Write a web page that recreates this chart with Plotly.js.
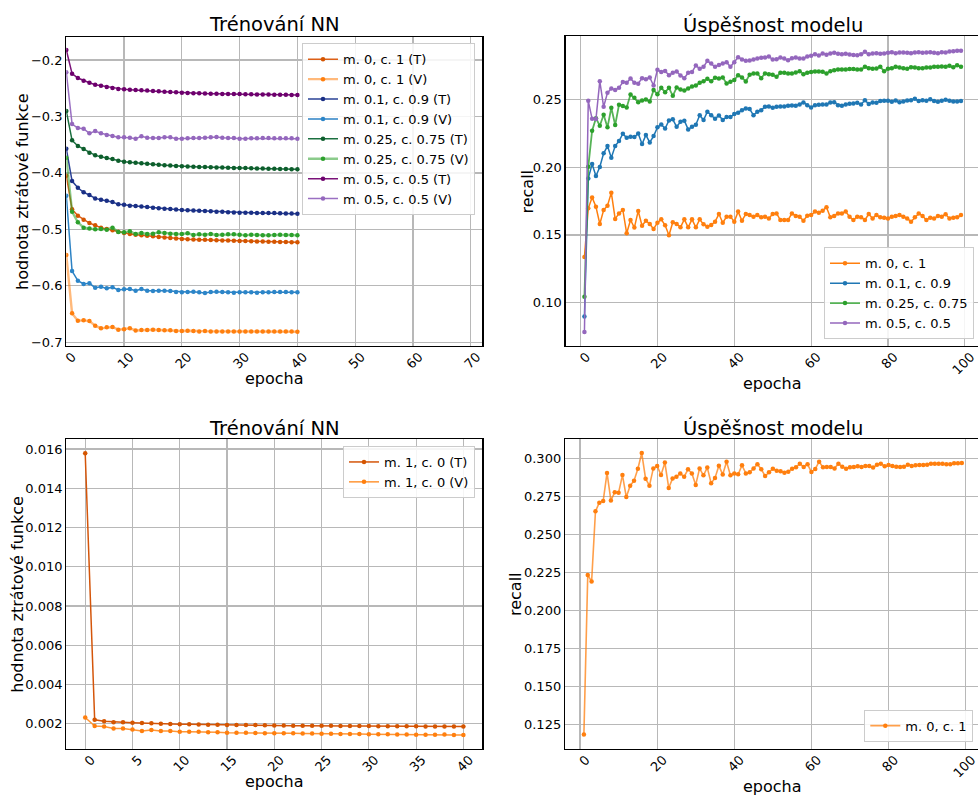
<!DOCTYPE html>
<html>
<head>
<meta charset="utf-8">
<script src="https://cdn.plot.ly/plotly-3.0.1.min.js"></script>
<style>
  html, body { margin: 0; padding: 0; overflow: hidden; background: #fff; }
  #chart { width: 984px; height: 796px; }
</style>
</head>
<body>
<div id="chart"></div>
<script>
// ---- loss during training (top left), 41 epochs ----
const lossEpochs = Array.from({length: 41}, (_, i) => i);

const lossM0T = [-0.405, -0.4645, -0.4758, -0.4829, -0.4888, -0.4929, -0.497, -0.4994, -0.5017, -0.5041,
  -0.5065, -0.5082, -0.5094, -0.5104, -0.5114, -0.5124, -0.5134, -0.5143, -0.5152, -0.5162,
  -0.5171, -0.5175, -0.5179, -0.5182, -0.5186, -0.5189, -0.5193, -0.5196, -0.5199, -0.5203,
  -0.5206, -0.5208, -0.5211, -0.5213, -0.5216, -0.5218, -0.522, -0.5223, -0.5225, -0.5228, -0.523];
const lossM0V = [-0.5455, -0.6488, -0.6618, -0.6612, -0.6624, -0.6706, -0.6753, -0.6736, -0.673, -0.6777,
  -0.6771, -0.6753, -0.679, -0.6783, -0.6783, -0.6777, -0.6783, -0.6789, -0.6789, -0.6801,
  -0.6801, -0.6795, -0.6801, -0.6807, -0.6801, -0.6807, -0.6807, -0.6807, -0.6807, -0.6807,
  -0.6807, -0.6807, -0.6807, -0.6807, -0.6807, -0.6807, -0.6807, -0.6807, -0.6807, -0.6807, -0.6813];
const lossM01T = [-0.357, -0.4144, -0.4262, -0.4344, -0.4391, -0.4451, -0.4474, -0.4492, -0.4516, -0.4557,
  -0.4563, -0.458, -0.4586, -0.4595, -0.4605, -0.4616, -0.4625, -0.4633, -0.4641, -0.4649,
  -0.4657, -0.4662, -0.4667, -0.4671, -0.4676, -0.4681, -0.4686, -0.469, -0.4695, -0.47,
  -0.4704, -0.4705, -0.4706, -0.4708, -0.4709, -0.471, -0.4712, -0.4715, -0.4717, -0.472, -0.4722];
const lossM01V = [-0.4403, -0.5738, -0.5909, -0.5968, -0.5956, -0.6033, -0.6015, -0.6045, -0.6027, -0.6074,
  -0.6062, -0.6057, -0.6086, -0.6057, -0.6086, -0.6092, -0.6086, -0.6086, -0.6092, -0.611,
  -0.6116, -0.611, -0.6104, -0.6116, -0.6128, -0.611, -0.6104, -0.611, -0.6116, -0.6122,
  -0.6116, -0.6116, -0.6116, -0.6122, -0.6116, -0.6116, -0.611, -0.611, -0.611, -0.6116, -0.6116];
const lossM025T = [-0.2903, -0.3423, -0.3523, -0.3577, -0.3641, -0.3689, -0.3712, -0.3736, -0.3754, -0.3783,
  -0.3801, -0.3813, -0.3819, -0.3829, -0.3839, -0.3848, -0.3856, -0.3863, -0.387, -0.3877,
  -0.3884, -0.3887, -0.389, -0.3894, -0.3897, -0.3901, -0.3903, -0.3906, -0.3908, -0.3911,
  -0.3913, -0.3915, -0.3918, -0.392, -0.3923, -0.3925, -0.3927, -0.393, -0.3932, -0.3935, -0.3937];
const lossM025V = [-0.373, -0.4687, -0.4876, -0.497, -0.4985, -0.5, -0.4995, -0.5005, -0.497, -0.5047,
  -0.5053, -0.5035, -0.5082, -0.5065, -0.5082, -0.5076, -0.5053, -0.5065, -0.5076, -0.5082,
  -0.5082, -0.507, -0.51, -0.5088, -0.5094, -0.5082, -0.51, -0.5094, -0.5088, -0.5088,
  -0.5094, -0.5106, -0.5094, -0.51, -0.5106, -0.5106, -0.51, -0.5094, -0.51, -0.51, -0.5106];
const lossM05T = [-0.1823, -0.2242, -0.2319, -0.2366, -0.2402, -0.2437, -0.2455, -0.2478, -0.2496, -0.2514,
  -0.252, -0.2526, -0.253, -0.2535, -0.254, -0.2549, -0.2555, -0.256, -0.2567, -0.2573,
  -0.2579, -0.2583, -0.2587, -0.259, -0.2593, -0.2596, -0.2598, -0.26, -0.2601, -0.2602,
  -0.2603, -0.2605, -0.2607, -0.2609, -0.261, -0.2612, -0.2614, -0.2615, -0.2617, -0.2618, -0.262];
const lossM05V = [-0.2218, -0.3134, -0.3205, -0.3217, -0.3299, -0.3258, -0.3299, -0.3329, -0.3346, -0.337,
  -0.337, -0.3376, -0.3394, -0.3352, -0.3376, -0.338, -0.338, -0.337, -0.337, -0.3394,
  -0.3394, -0.3388, -0.3382, -0.3382, -0.3376, -0.337, -0.3364, -0.3376, -0.3382, -0.3382,
  -0.3394, -0.3394, -0.3388, -0.3388, -0.3382, -0.3382, -0.3388, -0.3388, -0.3388, -0.3388, -0.3394];

// ---- recall per epoch (top right), epochs 1..99 ----
const recallEpochs = Array.from({length: 99}, (_, i) => i + 1);

const recallM0 = [0.1337, 0.1696, 0.1777, 0.1708, 0.1581, 0.1684, 0.1716, 0.1812, 0.1618, 0.1659,
  0.1684, 0.1512, 0.161, 0.1554, 0.1677, 0.1568, 0.1605, 0.1581, 0.1544, 0.159,
  0.1615, 0.1571, 0.1497, 0.1593, 0.1581, 0.1556, 0.1615, 0.1556, 0.1615, 0.1556,
  0.1615, 0.1578, 0.1561, 0.1573, 0.1598, 0.1654, 0.159, 0.1635, 0.1635, 0.1598,
  0.1672, 0.1605, 0.1654, 0.1647, 0.1635, 0.1647, 0.163, 0.1635, 0.1622, 0.1654,
  0.1659, 0.161, 0.161, 0.161, 0.1659, 0.164, 0.1635, 0.1605, 0.1642, 0.1647,
  0.1672, 0.1664, 0.1679, 0.1704, 0.163, 0.164, 0.1659, 0.1659, 0.1672, 0.1635,
  0.161, 0.1635, 0.163, 0.161, 0.1654, 0.1622, 0.1647, 0.163, 0.1627, 0.1622,
  0.1635, 0.164, 0.1647, 0.1635, 0.1622, 0.1598, 0.163, 0.1659, 0.164, 0.161,
  0.1627, 0.1622, 0.164, 0.1635, 0.1652, 0.1622, 0.1627, 0.163, 0.1647];
const recallM01 = [0.0897, 0.1917, 0.2023, 0.1935, 0.2001, 0.2102, 0.2156, 0.207, 0.2156, 0.2193,
  0.2247, 0.2217, 0.2225, 0.2222, 0.2249, 0.2171, 0.2237, 0.2183, 0.223, 0.2294,
  0.2316, 0.2286, 0.2345, 0.2353, 0.2298, 0.2335, 0.2343, 0.2279, 0.2298, 0.2313,
  0.2384, 0.2348, 0.2409, 0.2384, 0.2357, 0.2382, 0.2348, 0.237, 0.237, 0.2392,
  0.2402, 0.2421, 0.2434, 0.2429, 0.2384, 0.2409, 0.2421, 0.2446, 0.2448, 0.2439,
  0.2446, 0.2448, 0.2448, 0.2453, 0.2456, 0.2453, 0.2463, 0.2478, 0.2458, 0.2441,
  0.2458, 0.2461, 0.2463, 0.2463, 0.2478, 0.248, 0.2458, 0.2453, 0.2463, 0.2468,
  0.247, 0.2475, 0.2463, 0.2495, 0.2466, 0.2478, 0.2475, 0.2488, 0.249, 0.249,
  0.2483, 0.2493, 0.248, 0.2485, 0.2493, 0.2495, 0.2505, 0.2488, 0.2495, 0.249,
  0.2502, 0.2488, 0.2483, 0.249, 0.2498, 0.249, 0.2485, 0.2485, 0.2488];
const recallM025 = [0.1044, 0.2003, 0.2269, 0.2362, 0.2306, 0.2387, 0.2294, 0.2439, 0.2311, 0.2461,
  0.2451, 0.2441, 0.2537, 0.2512, 0.248, 0.2493, 0.25, 0.2485, 0.2569, 0.2539,
  0.2586, 0.2554, 0.2586, 0.2527, 0.2588, 0.2574, 0.2566, 0.2581, 0.2596, 0.2603,
  0.2623, 0.2635, 0.2652, 0.2635, 0.266, 0.2655, 0.2662, 0.2618, 0.263, 0.2643,
  0.2679, 0.2662, 0.2633, 0.2682, 0.2692, 0.2692, 0.2657, 0.2692, 0.2687, 0.2682,
  0.2667, 0.2697, 0.2697, 0.2692, 0.2692, 0.2699, 0.2709, 0.2687, 0.2697, 0.2702,
  0.2706, 0.2706, 0.2704, 0.2692, 0.2709, 0.2716, 0.2721, 0.2721, 0.2721, 0.2724,
  0.2724, 0.2721, 0.2721, 0.2741, 0.2731, 0.2726, 0.2729, 0.2741, 0.2709, 0.2726,
  0.2731, 0.2741, 0.2736, 0.2731, 0.2726, 0.2738, 0.2736, 0.2731, 0.2731, 0.2736,
  0.2736, 0.2741, 0.2741, 0.2743, 0.2741, 0.2748, 0.2738, 0.2753, 0.2741];
const recallM05 = [0.0784, 0.249, 0.2357, 0.2355, 0.2635, 0.2446, 0.2549, 0.2581, 0.2569, 0.2586,
  0.2628, 0.2623, 0.2655, 0.2623, 0.2616, 0.2657, 0.265, 0.2662, 0.2603, 0.2719,
  0.2702, 0.2711, 0.2679, 0.2697, 0.2706, 0.2677, 0.2657, 0.2697, 0.2702, 0.2751,
  0.2726, 0.2741, 0.2785, 0.2765, 0.2741, 0.2755, 0.2765, 0.2775, 0.2741, 0.2775,
  0.2812, 0.2795, 0.2785, 0.2787, 0.2795, 0.2802, 0.2807, 0.2809, 0.2817, 0.2795,
  0.2797, 0.2809, 0.2802, 0.279, 0.2805, 0.281, 0.2802, 0.2802, 0.2817, 0.2822,
  0.2834, 0.2824, 0.2839, 0.283, 0.284, 0.2844, 0.2837, 0.2834, 0.2837, 0.2832,
  0.2829, 0.2827, 0.2834, 0.2852, 0.2834, 0.2839, 0.2842, 0.2837, 0.2839, 0.2844,
  0.2849, 0.2842, 0.2847, 0.2847, 0.2844, 0.2842, 0.2847, 0.2849, 0.2844, 0.2847,
  0.2849, 0.2844, 0.2842, 0.2849, 0.2847, 0.2854, 0.2856, 0.2859, 0.2859];

// ---- loss for m. 1, c. 0 (bottom left) ----
const lossM1T = [0.01578, 0.00220, 0.00212, 0.00208, 0.00207, 0.00205, 0.00203, 0.00202, 0.00200, 0.00198,
  0.00197, 0.00197, 0.00196, 0.00195, 0.00195, 0.00194, 0.00194, 0.00193, 0.00193, 0.00192,
  0.00191, 0.00191, 0.00190, 0.00190, 0.00189, 0.00189, 0.00189, 0.00188, 0.00188, 0.00188,
  0.00188, 0.00187, 0.00187, 0.00187, 0.00187, 0.00187, 0.00186, 0.00186, 0.00186, 0.00186, 0.00186];
const lossM1V = [0.00232, 0.00188, 0.00186, 0.00176, 0.00176, 0.00171, 0.00163, 0.00168, 0.00163, 0.00163,
  0.00159, 0.00159, 0.00159, 0.00156, 0.00156, 0.00154, 0.00154, 0.00154, 0.00153, 0.00152,
  0.00151, 0.00151, 0.00151, 0.00150, 0.00150, 0.00149, 0.00149, 0.00148, 0.00148, 0.00147,
  0.00146, 0.00146, 0.00146, 0.00145, 0.00145, 0.00144, 0.00144, 0.00144, 0.00145, 0.00143, 0.00142];

// ---- recall for m. 0, c. 1 (bottom right) ----
const recallSingle = [0.1182, 0.2234, 0.219, 0.2653, 0.271, 0.2721, 0.2906, 0.2725, 0.2778, 0.2776,
  0.2892, 0.2747, 0.2822, 0.2855, 0.2934, 0.3037, 0.2868, 0.2822, 0.2936, 0.2952,
  0.2892, 0.2974, 0.2807, 0.287, 0.2881, 0.2903, 0.2881, 0.293, 0.2903, 0.2827,
  0.2936, 0.289, 0.2941, 0.2838, 0.2873, 0.2954, 0.2895, 0.298, 0.289, 0.2903,
  0.2897, 0.2956, 0.2903, 0.291, 0.2936, 0.2963, 0.293, 0.2886, 0.291, 0.2934,
  0.2921, 0.2917, 0.2908, 0.2914, 0.2934, 0.2943, 0.2967, 0.2945, 0.2963, 0.2912,
  0.2932, 0.298, 0.2943, 0.2945, 0.2945, 0.2936, 0.2967, 0.2947, 0.2934, 0.2943,
  0.2945, 0.295, 0.2945, 0.2952, 0.2952, 0.2941, 0.296, 0.2967, 0.295, 0.2958,
  0.2952, 0.2947, 0.2945, 0.2947, 0.296, 0.2952, 0.2956, 0.2958, 0.2958, 0.296,
  0.2967, 0.2967, 0.2967, 0.2967, 0.2963, 0.2963, 0.2969, 0.2969, 0.2971];

// ---- drawing ----
const W = 984, H = 796;
const FONT = 'DejaVu Sans, sans-serif';
const px = v => v / W;
const py = v => 1 - v / H;

function line(x, y, name, lineColor, markerColor, width, xa, ya, legend) {
  return {
    type: 'scatter', mode: 'lines+markers', x: x, y: y, name: name,
    xaxis: xa, yaxis: ya, legend: legend,
    line: {color: lineColor, width: width},
    marker: {color: markerColor, size: 4.5},
    hoverinfo: 'skip'
  };
}

const traces = [
  line(lossEpochs, lossM0T, 'm. 0, c. 1 (T)', '#dc5f17', '#d45500', 1.5, 'x', 'y', 'legend'),
  line(lossEpochs, lossM0V, 'm. 0, c. 1 (V)', 'rgba(255,127,14,0.55)', '#ff7f0e', 2.4, 'x', 'y', 'legend'),
  line(lossEpochs, lossM01T, 'm. 0.1, c. 0.9 (T)', '#2a4296', '#1a2f85', 1.5, 'x', 'y', 'legend'),
  line(lossEpochs, lossM01V, 'm. 0.1, c. 0.9 (V)', '#2c82c4', '#2c85c8', 1.5, 'x', 'y', 'legend'),
  line(lossEpochs, lossM025T, 'm. 0.25, c. 0.75 (T)', '#1c7040', '#0d5e2c', 1.5, 'x', 'y', 'legend'),
  line(lossEpochs, lossM025V, 'm. 0.25, c. 0.75 (V)', 'rgba(44,160,44,0.55)', '#2ca02c', 2.4, 'x', 'y', 'legend'),
  line(lossEpochs, lossM05T, 'm. 0.5, c. 0.5 (T)', '#7a1279', '#6d006d', 1.5, 'x', 'y', 'legend'),
  line(lossEpochs, lossM05V, 'm. 0.5, c. 0.5 (V)', '#9a70c2', '#9467bd', 1.5, 'x', 'y', 'legend'),

  line(recallEpochs, recallM0, 'm. 0, c. 1', '#ff7f0e', '#ff7f0e', 1.5, 'x2', 'y2', 'legend2'),
  line(recallEpochs, recallM01, 'm. 0.1, c. 0.9', '#1f77b4', '#1f77b4', 1.5, 'x2', 'y2', 'legend2'),
  line(recallEpochs, recallM025, 'm. 0.25, c. 0.75', 'rgba(44,160,44,0.8)', '#2ca02c', 1.8, 'x2', 'y2', 'legend2'),
  line(recallEpochs, recallM05, 'm. 0.5, c. 0.5', '#9467bd', '#9467bd', 1.5, 'x2', 'y2', 'legend2'),

  line(lossEpochs, lossM1T, 'm. 1, c. 0 (T)', '#d4550a', '#d45500', 1.5, 'x3', 'y3', 'legend3'),
  line(lossEpochs, lossM1V, 'm. 1, c. 0 (V)', '#ff9636', '#ff7f0e', 1.5, 'x3', 'y3', 'legend3'),

  line(recallEpochs, recallSingle, 'm. 0, c. 1', 'rgba(255,127,14,0.75)', '#ff7f0e', 1.6, 'x4', 'y4', 'legend4')
];

function axis(extra) {
  return Object.assign({
    showgrid: true, gridcolor: '#b8b8b8', gridwidth: 1.2,
    showline: true, linecolor: '#000', linewidth: 1.2, mirror: true,
    ticks: '', zeroline: false, fixedrange: true,
    tickfont: {family: FONT, size: 13, color: '#000'}
  }, extra);
}
const xRot = {tickangle: -45, ticklabelshift: 6, ticklabelstandoff: -3};

function legendBox(x, y, xanchor, yanchor) {
  return {
    x: x, y: y, xanchor: xanchor, yanchor: yanchor,
    bgcolor: 'rgba(255,255,255,0.85)', bordercolor: '#cccccc', borderwidth: 1,
    font: {family: FONT, size: 13, color: '#000'}, tracegroupgap: 0
  };
}

function label(text, x, y, size, angle) {
  return {
    text: text, xref: 'paper', yref: 'paper', x: px(x), y: py(y),
    xanchor: 'center', yanchor: 'middle', showarrow: false, textangle: angle || 0,
    font: {family: FONT, size: size, color: '#000'}
  };
}

const layout = {
  width: W, height: H,
  margin: {l: 0, r: 0, t: 0, b: 0},
  paper_bgcolor: '#fff', plot_bgcolor: '#fff',
  showlegend: true,
  xaxis: axis(Object.assign({domain: [px(66.3), px(482.3)], range: [0, 72], tickvals: [0, 10, 20, 30, 40, 50, 60, 70], anchor: 'y'}, xRot)),
  yaxis: axis({domain: [py(346), py(36.7)], range: [-0.7066, -0.1587], tickvals: [-0.7, -0.6, -0.5, -0.4, -0.3, -0.2], tickformat: '.1f', anchor: 'x'}),
  xaxis2: axis(Object.assign({domain: [px(565.6), px(979.8)], range: [-3.9, 103.9], tickvals: [0, 20, 40, 60, 80, 100], anchor: 'y2'}, xRot)),
  yaxis2: axis({domain: [py(346), py(36.2)], range: [0.068, 0.2967], tickvals: [0.10, 0.15, 0.20, 0.25], tickformat: '.2f', anchor: 'x2'}),
  xaxis3: axis(Object.assign({domain: [px(66.3), px(482.3)], range: [-2, 42], tickvals: [0, 5, 10, 15, 20, 25, 30, 35, 40], anchor: 'y3'}, xRot)),
  yaxis3: axis({domain: [py(749), py(439)], range: [0.000711, 0.01651], tickvals: [0.002, 0.004, 0.006, 0.008, 0.010, 0.012, 0.014, 0.016], tickformat: '.3f', anchor: 'x3'}),
  xaxis4: axis(Object.assign({domain: [px(565), px(980.7)], range: [-3.9, 103.9], tickvals: [0, 20, 40, 60, 80, 100], anchor: 'y4'}, xRot)),
  yaxis4: axis({domain: [py(749), py(439)], range: [0.1087, 0.31296], tickvals: [0.125, 0.150, 0.175, 0.200, 0.225, 0.250, 0.275, 0.300], tickformat: '.3f', anchor: 'x4'}),
  legend: legendBox(px(475), py(43.3), 'right', 'top'),
  legend2: legendBox(px(974), py(339.3), 'right', 'bottom'),
  legend3: legendBox(px(475), py(446), 'right', 'top'),
  legend4: legendBox(px(973.3), py(741.7), 'right', 'bottom'),
  annotations: [
    label('Trénování NN', 274.3, 25, 19.5),
    label('Úspěšnost modelu', 772.7, 25, 19.5),
    label('Trénování NN', 274.3, 428, 19.5),
    label('Úspěšnost modelu', 772.7, 428, 19.5),
    label('epocha', 274.3, 378, 16),
    label('epocha', 772.7, 383, 16),
    label('epocha', 274.3, 781, 16),
    label('epocha', 772.7, 786, 16),
    label('hodnota ztrátové funkce', 22.5, 191.5, 16, -90),
    label('recall', 527, 191.5, 16, -90),
    label('hodnota ztrátové funkce', 16.7, 594, 16, -90),
    label('recall', 515, 594, 16, -90)
  ]
};

Plotly.newPlot('chart', traces, layout, {displayModeBar: false, staticPlot: true});
</script>
</body>
</html>
